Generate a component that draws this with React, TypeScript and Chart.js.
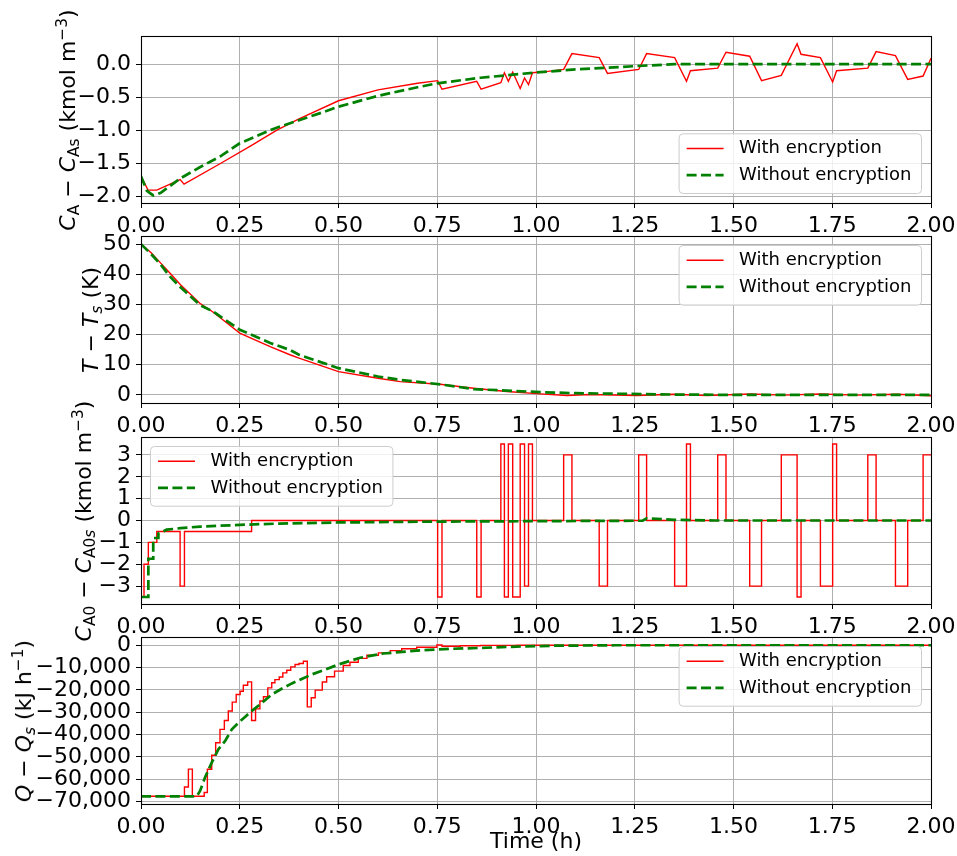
import React, { useEffect, useRef } from 'react';
import { Chart, registerables } from 'chart.js';

Chart.register(...registerables);

const FONT = '"DejaVu Sans", sans-serif';
const RED = '#ff0000';
const GREEN = '#008000';

// ---- shared x axis ----
const timeTicks = [0, 0.25, 0.5, 0.75, 1.0, 1.25, 1.5, 1.75, 2.0];

// ---- Panel 1: C_A - C_As ----
const caEncT = [0, 0.018, 0.04, 0.099, 0.109, 0.2, 0.28, 0.344, 0.4, 0.5, 0.6, 0.7, 0.751, 0.762, 0.85, 0.861, 0.911, 0.92, 0.93, 0.941, 0.96, 0.971, 0.981, 0.991, 1.03, 1.07, 1.091, 1.16, 1.181, 1.26, 1.28, 1.351, 1.381, 1.391, 1.46, 1.481, 1.541, 1.571, 1.621, 1.661, 1.671, 1.72, 1.751, 1.761, 1.84, 1.861, 1.91, 1.941, 1.98, 2.0];
const caEncV = [-1.70, -1.91, -1.91, -1.75, -1.82, -1.51, -1.23, -1.0, -0.83, -0.555, -0.39, -0.29, -0.25, -0.38, -0.26, -0.38, -0.28, -0.13, -0.26, -0.12, -0.37, -0.21, -0.31, -0.13, -0.11, -0.08, 0.16, 0.10, -0.14, -0.08, 0.16, 0.10, -0.26, -0.10, -0.06, 0.18, 0.12, -0.25, -0.17, 0.31, 0.15, 0.10, -0.27, -0.10, -0.06, 0.19, 0.13, -0.23, -0.18, 0.09];
const caNoT = [0, 0.015, 0.031, 0.05, 0.1, 0.15, 0.2, 0.25, 0.3, 0.34, 0.4, 0.45, 0.5, 0.6, 0.7, 0.75, 0.86, 1.0, 1.1, 1.25, 1.35, 2.0];
const caNoV = [-1.70, -1.92, -1.99, -1.95, -1.73, -1.56, -1.40, -1.20, -1.07, -0.97, -0.85, -0.75, -0.645, -0.48, -0.35, -0.29, -0.206, -0.126, -0.08, -0.03, 0, 0];
const caTicks = [-2.0, -1.5, -1.0, -0.5, 0.0];

// ---- Panel 2: T - Ts ----
const tEncT = [0, 0.025, 0.05, 0.073, 0.1, 0.149, 0.183, 0.25, 0.327, 0.377, 0.4, 0.5, 0.6, 0.656, 0.757, 0.842, 0.926, 1.011, 1.078, 1.137, 1.255, 1.348, 1.433, 1.543, 1.627, 1.72, 1.813, 1.914, 2.0];
const tEncV = [50, 47.2, 43.7, 40.4, 36.5, 30.4, 27.4, 20.5, 16.0, 13.3, 12.2, 7.7, 5.5, 4.4, 3.5, 2.2, 1.1, 0.33, -0.2, 0.1, -0.2, 0.2, -0.2, 0.3, -0.1, 0.3, -0.1, 0.2, -0.3];
const tNoT = [0, 0.025, 0.05, 0.073, 0.1, 0.149, 0.183, 0.25, 0.327, 0.377, 0.4, 0.5, 0.6, 0.656, 0.757, 0.842, 0.926, 1.011, 1.1, 1.23, 1.35, 1.5, 2.0];
const tNoV = [50, 46.8, 43.2, 39.3, 35.7, 29.8, 27.6, 21.6, 17.2, 14.9, 13.3, 8.85, 6.1, 4.98, 3.5, 1.9, 1.4, 0.9, 0.55, 0.33, 0.1, 0, 0];
const tempTicks = [0, 10, 20, 30, 40, 50];

// ---- Panel 3: C_A0 - C_A0s (held inputs) ----
const ca0EncT = [0, 0.0076, 0.0186, 0.04, 0.099, 0.11, 0.28, 0.751, 0.762, 0.85, 0.861, 0.911, 0.92, 0.93, 0.941, 0.96, 0.971, 0.981, 0.991, 1.07, 1.091, 1.16, 1.181, 1.26, 1.28, 1.351, 1.381, 1.391, 1.46, 1.481, 1.541, 1.571, 1.621, 1.661, 1.671, 1.72, 1.751, 1.761, 1.84, 1.861, 1.91, 1.941, 1.98, 2.0];
const ca0EncV = [-3.5, -2, -1, -0.5, -3, -0.5, 0, -3.5, 0, -3.5, 0, 3.5, -3.5, 3.5, -3.5, 3.5, -3, 3.5, 0, 3, 0, -3, 0, 3, 0, -3, 3.5, 0, 3, 0, -3, 0, 3, -3.5, 0, -3, 3.5, 0, 3, 0, -3, 0, 3, 3];
const ca0NoT = [0, 0.0186, 0.0186, 0.031, 0.031, 0.044, 0.044, 0.065, 0.1, 0.15, 0.25, 0.35, 0.5, 0.75, 1.0, 1.27, 1.28, 1.35, 1.45, 2.0];
const ca0NoV = [-3.5, -3.5, -1.75, -1.75, -0.8, -0.8, -0.6, -0.42, -0.35, -0.28, -0.2, -0.14, -0.09, -0.05, -0.03, -0.01, 0.1, 0.03, 0, 0];
const ca0Ticks = [-3, -2, -1, 0, 1, 2, 3];

// ---- Panel 4: Q - Qs (held inputs) ----
const qEncT = [0, 0.11, 0.12, 0.13, 0.16, 0.168, 0.179, 0.189, 0.2, 0.211, 0.221, 0.231, 0.241, 0.251, 0.259, 0.27, 0.28, 0.29, 0.301, 0.31, 0.321, 0.331, 0.339, 0.35, 0.359, 0.369, 0.379, 0.39, 0.4, 0.411, 0.421, 0.431, 0.441, 0.459, 0.47, 0.49, 0.512, 0.529, 0.55, 0.572, 0.601, 0.631, 0.66, 0.698, 0.749, 0.762, 0.808, 0.86, 0.95, 2.0];
const qEncV = [-67700, -63500, -55500, -67700, -66000, -55600, -49300, -43700, -37700, -33700, -29500, -25500, -22100, -20600, -17900, -16400, -33700, -28500, -25000, -23100, -19100, -16800, -15400, -14200, -12400, -11200, -9700, -8600, -8200, -7200, -27600, -23500, -20100, -16500, -14100, -11600, -9100, -7600, -5900, -4500, -3400, -2400, -1600, -900, 100, -450, -200, -50, 0, 0];
const qNoT = [0, 0.141, 0.1495, 0.162, 0.179, 0.196, 0.213, 0.23, 0.247, 0.264, 0.28, 0.306, 0.331, 0.356, 0.382, 0.407, 0.432, 0.462, 0.5, 0.555, 0.613, 0.698, 0.783, 0.859, 0.95, 1.05, 1.2, 2.0];
const qNoV = [-67700, -67700, -65300, -59300, -52600, -46600, -42900, -37700, -34700, -32000, -29500, -25800, -22100, -19500, -17100, -15100, -13100, -11200, -8600, -5600, -3700, -2400, -1600, -1200, -600, -200, 0, 0];
const qTicks = [-70000, -60000, -50000, -40000, -30000, -20000, -10000, 0];

const LABEL_ENC = 'With encryption';
const LABEL_NO = 'Without encryption';

const MINUS = '\u2212';
const fmtDec = (d: number) => (v: number) => (v < 0 ? MINUS : '') + Math.abs(v).toFixed(d);
const fmtThousands = (v: number) => (v < 0 ? MINUS : '') + Math.abs(v).toLocaleString('en-US');

const zip = (t: number[], v: number[]) => t.map((x, i) => ({ x, y: v[i] }));

const boxLegend = {
  id: 'boxLegend',
  afterDatasetsDraw(chart: any) {
    const { ctx, chartArea: a } = chart;
    ctx.save();
    ctx.strokeStyle = '#000';
    ctx.lineWidth = 1.1;
    const l = Math.round(a.left) + 0.5;
    const t = Math.round(a.top) + 0.5;
    const r = Math.round(a.right) + 0.5;
    const b = Math.round(a.bottom) + 0.5;
    ctx.strokeRect(l, t, r - l, b - t);
    ctx.restore();
  },
  afterDraw(chart: any, _args: any, opts: any) {
    const { ctx, chartArea: a } = chart;
    const ds = chart.data.datasets;
    ctx.save();
    ctx.font = `18px ${FONT}`;
    const tw = Math.max(...ds.map((d: any) => ctx.measureText(d.label).width));
    const w = 60 + tw + 10;
    const h = 59.7;
    const m = 9.5;
    const corner = opts.corner || 'ur';
    const x = corner.endsWith('l') ? a.left + m : a.right - m - w;
    const y = corner.startsWith('l') ? a.bottom - m - h : a.top + m;
    const rad = 4;
    ctx.beginPath();
    ctx.moveTo(x + rad, y);
    ctx.lineTo(x + w - rad, y);
    ctx.quadraticCurveTo(x + w, y, x + w, y + rad);
    ctx.lineTo(x + w, y + h - rad);
    ctx.quadraticCurveTo(x + w, y + h, x + w - rad, y + h);
    ctx.lineTo(x + rad, y + h);
    ctx.quadraticCurveTo(x, y + h, x, y + h - rad);
    ctx.lineTo(x, y + rad);
    ctx.quadraticCurveTo(x, y, x + rad, y);
    ctx.closePath();
    ctx.fillStyle = 'rgba(255,255,255,0.8)';
    ctx.fill();
    ctx.strokeStyle = '#cccccc';
    ctx.lineWidth = 1;
    ctx.stroke();
    ds.forEach((d: any, i: number) => {
      const cy = y + 14.7 + i * 26.7;
      ctx.beginPath();
      ctx.strokeStyle = d.borderColor;
      ctx.lineWidth = d.borderWidth;
      ctx.setLineDash(d.borderDash || []);
      ctx.moveTo(x + 7.5, cy);
      ctx.lineTo(x + 44.5, cy);
      ctx.stroke();
      ctx.setLineDash([]);
      ctx.fillStyle = '#000';
      ctx.textBaseline = 'middle';
      ctx.textAlign = 'left';
      ctx.fillText(d.label, x + 60, cy);
    });
    ctx.restore();
  },
};

type PanelProps = {
  top: number;
  plotH: number;
  xAxisH: number;
  encT: number[];
  encV: number[];
  noT: number[];
  noV: number[];
  stepped: boolean;
  yMin: number;
  yMax: number;
  yTicks: number[];
  yFmt: (v: number) => string;
  corner: string;
  xTitle?: string;
};

const PAD_TOP = 16;

function Panel(p: PanelProps) {
  const ref = useRef<HTMLCanvasElement>(null);
  const height = PAD_TOP + p.plotH + p.xAxisH;
  useEffect(() => {
    if (!ref.current) return;
    const tickFont = { family: FONT, size: 22 };
    const chart = new Chart(ref.current, {
      type: 'line',
      data: {
        datasets: [
          {
            label: LABEL_ENC,
            data: zip(p.encT, p.encV),
            borderColor: RED,
            borderWidth: 1.4,
            pointRadius: 0,
            fill: false,
            // value held from each sample time until the next one
            stepped: p.stepped ? 'before' : false,
            order: 2,
          } as any,
          {
            label: LABEL_NO,
            data: zip(p.noT, p.noV),
            borderColor: GREEN,
            borderWidth: 2.7,
            borderDash: [10, 4.4],
            pointRadius: 0,
            fill: false,
            order: 1,
          } as any,
        ],
      },
      options: {
        responsive: false,
        maintainAspectRatio: false,
        animation: false,
        events: [],
        layout: { padding: { top: PAD_TOP, right: 26, left: 0, bottom: 0 } },
        plugins: {
          legend: { display: false },
          tooltip: { enabled: false },
          boxLegend: { corner: p.corner },
        } as any,
        scales: {
          x: {
            type: 'linear',
            min: 0,
            max: 2,
            afterBuildTicks: (s: any) => {
              s.ticks = timeTicks.map((v) => ({ value: v }));
            },
            afterFit: (s: any) => {
              s.height = p.xAxisH;
              s.paddingLeft = 0;
              s.paddingRight = 0;
            },
            ticks: {
              autoSkip: false,
              maxRotation: 0,
              color: '#000',
              font: tickFont,
              padding: 5,
              callback: (v: any) => Number(v).toFixed(2),
            },
            grid: { color: '#b0b0b0', lineWidth: 1, tickColor: '#000', tickLength: 5, drawTicks: true },
            border: { display: false },
            title: p.xTitle
              ? { display: true, text: p.xTitle, color: '#000', font: tickFont, padding: { top: 0, bottom: 1 } }
              : { display: false },
          },
          y: {
            type: 'linear',
            min: p.yMin,
            max: p.yMax,
            afterBuildTicks: (s: any) => {
              s.ticks = p.yTicks.map((v) => ({ value: v }));
            },
            afterFit: (s: any) => {
              s.width = 141;
              s.paddingTop = 0;
              s.paddingBottom = 0;
            },
            ticks: {
              autoSkip: false,
              color: '#000',
              font: tickFont,
              padding: 5,
              callback: (v: any) => p.yFmt(Number(v)),
            },
            grid: { color: '#b0b0b0', lineWidth: 1, tickColor: '#000', tickLength: 5, drawTicks: true },
            border: { display: false },
          },
        },
      } as any,
      plugins: [boxLegend as any],
    });
    return () => chart.destroy();
  }, []);
  return (
    <canvas
      ref={ref}
      width={957}
      height={height}
      style={{ position: 'absolute', left: 0, top: p.top - PAD_TOP, width: 957, height }}
    />
  );
}

const subStyle: React.CSSProperties = { fontSize: '0.7em', position: 'relative', top: '0.28em' };
const supStyle: React.CSSProperties = { fontSize: '0.7em', position: 'relative', top: '-0.5em' };

function YLabel({ cx, cy, children }: { cx: number; cy: number; children: React.ReactNode }) {
  return (
    <div
      style={{
        position: 'absolute',
        left: cx,
        top: cy,
        transform: 'translate(-50%, -50%) rotate(-90deg)',
        whiteSpace: 'nowrap',
        fontFamily: FONT,
        fontSize: 22,
        lineHeight: '22px',
        color: '#000',
      }}
    >
      {children}
    </div>
  );
}

export default function App() {
  return (
    <div style={{ position: 'absolute', left: 0, top: 0, width: 957, height: 856, overflow: 'hidden', background: '#fff' }}>
      <Panel top={36} plotH={167} xAxisH={36} encT={caEncT} encV={caEncV} noT={caNoT} noV={caNoV} stepped={false}
        yMin={-2.105} yMax={0.427} yTicks={caTicks} yFmt={fmtDec(1)} corner="lr" />
      <Panel top={236} plotH={167} xAxisH={36} encT={tEncT} encV={tEncV} noT={tNoT} noV={tNoV} stepped={false}
        yMin={-2.7} yMax={52.7} yTicks={tempTicks} yFmt={fmtDec(0)} corner="ur" />
      <Panel top={437} plotH={167} xAxisH={36} encT={ca0EncT} encV={ca0EncV} noT={ca0NoT} noV={ca0NoV} stepped={true}
        yMin={-3.82} yMax={3.82} yTicks={ca0Ticks} yFmt={fmtDec(0)} corner="ul" />
      <Panel top={637} plotH={167} xAxisH={52} encT={qEncT} encV={qEncV} noT={qNoT} noV={qNoV} stepped={true}
        yMin={-71150} yMax={3700} yTicks={qTicks} yFmt={fmtThousands} corner="ur" xTitle="Time (h)" />
      <YLabel cx={69.4} cy={119.5}>
        <i>C</i><span style={subStyle}>A</span> − <i>C</i><span style={subStyle}>As</span> (kmol m<span style={supStyle}>−3</span>)
      </YLabel>
      <YLabel cx={92.4} cy={319.5}>
        <i>T</i> − <i>T</i><span style={subStyle}><i>s</i></span> (K)
      </YLabel>
      <YLabel cx={85.4} cy={520.5}>
        <i>C</i><span style={subStyle}>A0</span> − <i>C</i><span style={subStyle}>A0<i>s</i></span> (kmol m<span style={supStyle}>−3</span>)
      </YLabel>
      <YLabel cx={25.4} cy={720.5}>
        <i>Q</i> − <i>Q</i><span style={subStyle}><i>s</i></span> (kJ h<span style={supStyle}>−1</span>)
      </YLabel>
    </div>
  );
}
